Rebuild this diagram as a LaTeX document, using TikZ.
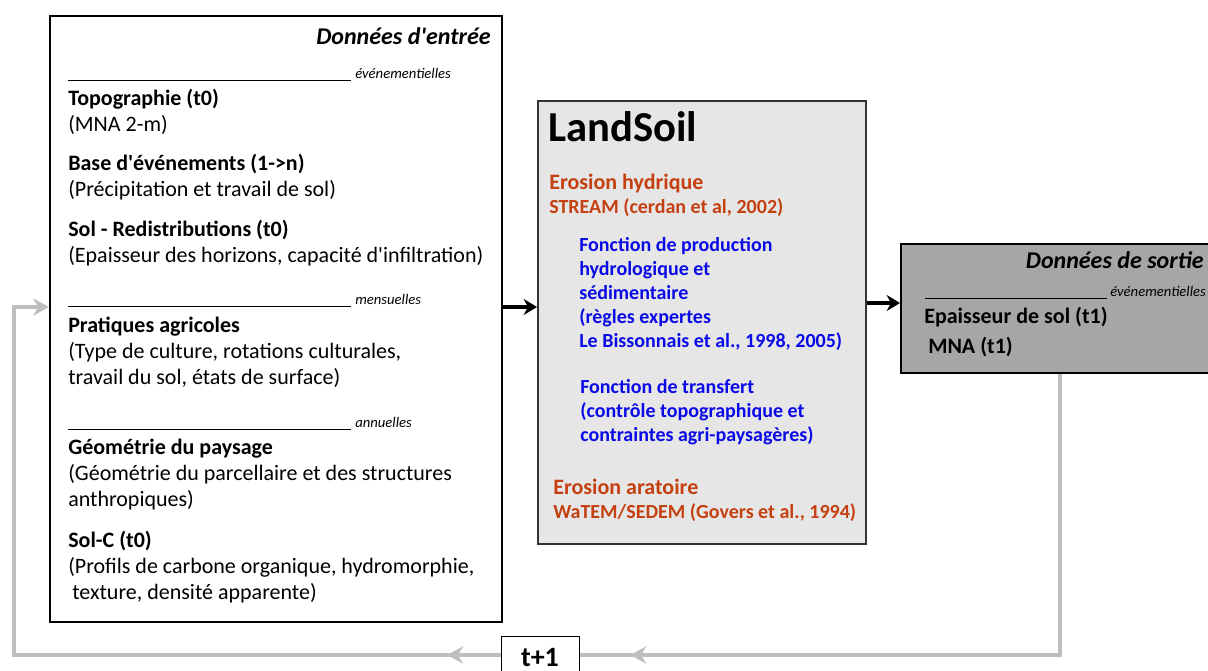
\documentclass[tikz,border=0pt]{standalone}
\usepackage{fontspec}
\setmainfont{Carlito}
\usetikzlibrary{arrows.meta,positioning,decorations.markings}

\definecolor{rougeerosion}{RGB}{197,64,17}
\definecolor{bleufonction}{RGB}{10,10,230}
\definecolor{grismodele}{RGB}{230,230,230}
\definecolor{grissortie}{RGB}{166,166,166}
\definecolor{grisretour}{RGB}{190,190,190}
\newcommand{\apos}{\textquotesingle}

\tikzset{
  boite/.style={draw, line width=1.5pt, anchor=north west, inner sep=0pt},
  txt/.style={anchor=base west, inner sep=0pt, align=left, font=\fontsize{16.5}{19.5}\selectfont},
  periode/.style={anchor=base west, inner sep=0pt, font=\fontsize{11}{12}\selectfont\itshape},
  titre/.style={anchor=base east, inner sep=0pt, font=\fontsize{18}{20}\selectfont\bfseries\itshape},
  rouge/.style={anchor=base west, inner sep=0pt, align=left, text=rougeerosion, font=\fontsize{15}{18}\selectfont\bfseries},
  bleu/.style={anchor=base west, inner sep=0pt, align=left, text=bleufonction, font=\fontsize{15}{18}\selectfont\bfseries},
  filet/.style={line width=0.75pt},
  fleche/.style={line width=3pt, -{Stealth[length=10pt,width=12pt]}},
  retour/.style={color=grisretour, line width=3.2pt},
  pointe/.style={postaction={decorate, decoration={markings,
      mark=at position #1 with {\arrow{Stealth[length=12pt,width=13pt,inset=4pt]}}}}},
}

\begin{document}
\begin{tikzpicture}[x=0.75pt,y=-0.75pt]
\useasboundingbox (0,0) rectangle (1208,671);

% donnees d'entree (base = derniere ligne)
\node[boite, minimum width=339pt, minimum height=454.5pt] (entree) at (49,15) {};
\node[titre] (titreentree) at (491,45) {Données d\apos entrée};
\draw[filet] (68,80) -- (351,80);
\node[periode] (pevt) at (355,78) {événementielles};
\node[txt] (topo) at (68,131) {\textbf{Topographie (t0)}\\(MNA 2-m)};
\node[txt] (base) at (68,196) {\textbf{Base d\apos événements (1->n)}\\(Précipitation et travail de sol)};
\node[txt] (redis) at (68,262) {\textbf{Sol - Redistributions (t0)}\\(Epaisseur des horizons, capacité d\apos infiltration)};
\draw[filet] (68,306) -- (351,306);
\node[periode] (pmois) at (355,304) {mensuelles};
\node[txt] (pratiques) at (68,384) {\textbf{Pratiques agricoles}\\(Type de culture, rotations culturales,\\travail du sol, états de surface)};
\draw[filet] (68,429) -- (351,429);
\node[periode] (pan) at (355,427) {annuelles};
\node[txt] (geom) at (68,506) {\textbf{Géométrie du paysage}\\(Géométrie du parcellaire et des structures\\anthropiques)};
\node[txt] (solc) at (68,599) {\textbf{Sol-C (t0)}\\(Profils de carbone organique, hydromorphie,\\\hspace{3pt}texture, densité apparente)};

% modele
\node[boite, fill=grismodele, draw=black!80, minimum width=246pt, minimum height=332.25pt] (landsoil) at (537,100) {};
\node[anchor=base west, inner sep=0pt, font=\fontsize{32}{36}\selectfont\bfseries] (nom) at (548,141) {LandSoil};
\node[rouge, font=\fontsize{16.5}{18}\selectfont\bfseries] (hydrique) at (549,189) {Erosion hydrique};
\node[rouge] (stream) at (549,213) {STREAM (cerdan et al, 2002)};
\node[bleu] (production) at (579,347) {Fonction de production\\hydrologique et\\sédimentaire\\(règles expertes\\Le Bissonnais et al., 1998, 2005)};
\node[bleu] (transfert) at (580,441) {Fonction de transfert\\(contrôle topographique et\\contraintes agri-paysagères)};
\node[rouge, font=\fontsize{16.5}{18}\selectfont\bfseries] (aratoire) at (553,494) {Erosion aratoire};
\node[rouge] (watem) at (553,518) {WaTEM/SEDEM (Govers et al., 1994)};

% donnees de sortie
\node[boite, fill=grissortie, minimum width=240pt, minimum height=96.75pt] (sortie) at (900,243) {};
\node[titre] (titresortie) at (1204,268) {Données de sortie};
\draw[filet] (925,298) -- (1107,298);
\node[periode] (psortie) at (1110,296) {événementielles};
\node[txt, font=\fontsize{16.5}{19.5}\selectfont\bfseries] (epaisseur) at (924,323) {Epaisseur de sol (t1)};
\node[txt, font=\fontsize{16.5}{19.5}\selectfont\bfseries] (mna) at (928,353) {MNA (t1)};

% pas de temps
\node[draw, line width=0.75pt, fill=white, minimum width=58.5pt, minimum height=33pt,
  font=\fontsize{21}{24}\selectfont\bfseries] (tplus) at (540,658) {t+1};

% liaisons
\coordinate (flux) at (0,307);
\coordinate (fluxb) at (0,303);
\coordinate (retourb) at (1060,655);
\coordinate (coin) at (14,655);
\draw[fleche] (entree.east |- flux) -- (landsoil.west |- flux);
\draw[fleche] (landsoil.east |- fluxb) -- (sortie.west |- fluxb);
\draw[retour, pointe=-38pt] (sortie.south -| retourb) -- (retourb) -- (tplus.east |- retourb);
\draw[retour, pointe=40pt, -{Stealth[length=12pt,width=13pt,inset=4pt]}]
  (tplus.west |- retourb) -- (coin) |- (entree.west |- flux);
\end{tikzpicture}
\end{document}
